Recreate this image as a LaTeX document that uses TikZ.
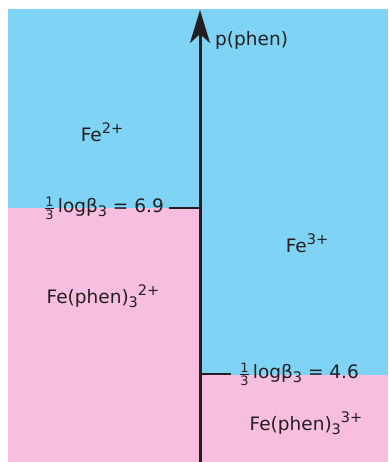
\documentclass[tikz,border=0pt]{standalone}
\usepackage{amsmath}
\usepackage{fontspec}
\setmainfont{DejaVu Sans}
\usepackage{xcolor}
\usetikzlibrary{positioning,arrows.meta}
\definecolor{freeblue}{HTML}{7FD4F5}
\definecolor{cplxpink}{HTML}{F8BEE0}
\definecolor{ink}{HTML}{231F20}
\tikzset{
  lab/.style={inner sep=1pt,text=ink,font=\fontsize{18.5}{22}\selectfont},
  axisline/.style={draw=ink,line width=3pt,-{Stealth[length=33pt,width=20pt,inset=9pt]}},
  tickline/.style={draw=ink,line width=2.8pt},
}
\newcommand{\third}{$\frac{\text{1}}{\text{3}}$}
\newcommand{\lown}[1]{\raisebox{-0.4ex}{\fontsize{14.5}{15}\selectfont #1}}
\newcommand{\highn}[1]{\raisebox{0.75ex}{\fontsize{14.5}{15}\selectfont #1}}

\begin{document}
\begin{tikzpicture}[x=1pt,y=1pt]
  \useasboundingbox (0,0) rectangle (388,462);
  % regions
  \fill[freeblue] (8,254) rectangle (200,453);
  \fill[cplxpink] (8,0) rectangle (200,254);
  \fill[freeblue] (200,87) rectangle (388,453);
  \fill[cplxpink] (200,0) rectangle (388,87);
  % axis and ticks
  \coordinate (o) at (200,0);
  \coordinate (top) at (200,452);
  \coordinate (lk) at (200,254);
  \coordinate (rk) at (200,88);
  \draw[axisline] (o) -- (top);
  \draw[tickline] (lk) -- ++(-31,0) coordinate (lt);
  \draw[tickline] (rk) -- ++(31,0) coordinate (rt);
  \node[lab,right=14pt of top,yshift=-30pt] (pphen) {p(phen)};
  \node[lab,left=4pt of lt] (k2) {\third\,logβ\lown{3} = 6.9};
  \node[lab,right=7pt of rt] (k3) {\third\,logβ\lown{3} = 4.6};
  % species
  \node[lab] (fe2) at (102,330) {Fe\highn{2+}};
  \node[lab] (cx2) at (103,166) {Fe(phen)\lown{3}\highn{2+}};
  \node[lab] (fe3) at (307,219) {Fe\highn{3+}};
  \node[lab] (cx3) at (306,39) {Fe(phen)\lown{3}\highn{3+}};
\end{tikzpicture}
\end{document}
